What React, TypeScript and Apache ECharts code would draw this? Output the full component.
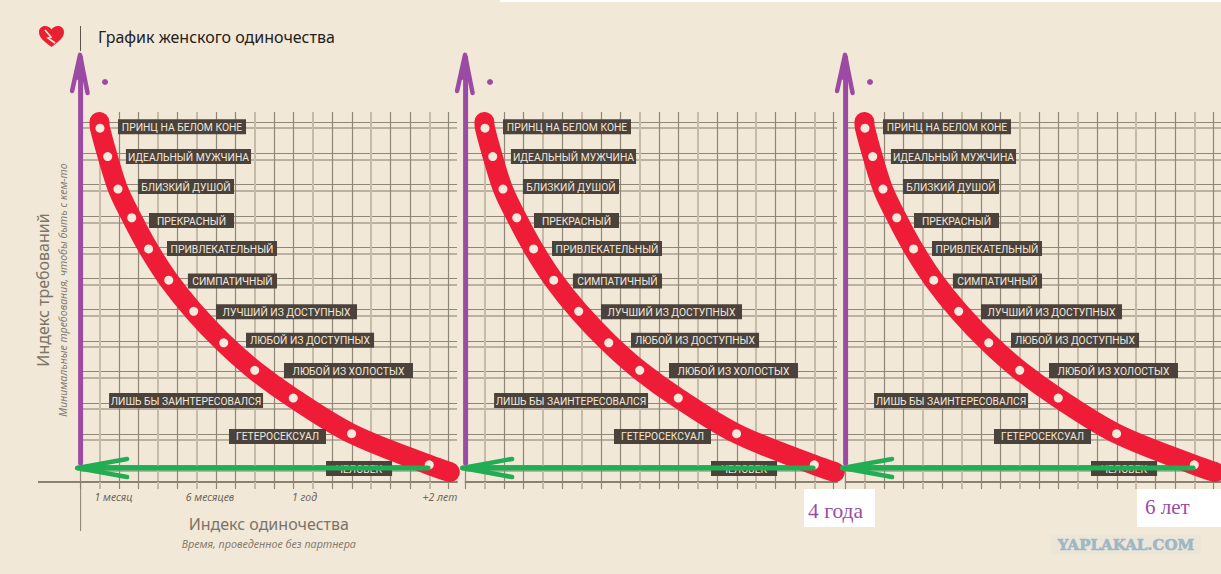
import React, { useEffect, useRef } from "react";
import * as echarts from "echarts";

// Requirement levels, from the top of the curve to the bottom
const levelNames = [
  "ПРИНЦ НА БЕЛОМ КОНЕ", "ИДЕАЛЬНЫЙ МУЖЧИНА", "БЛИЗКИЙ ДУШОЙ", "ПРЕКРАСНЫЙ",
  "ПРИВЛЕКАТЕЛЬНЫЙ", "СИМПАТИЧНЫЙ", "ЛУЧШИЙ ИЗ ДОСТУПНЫХ", "ЛЮБОЙ ИЗ ДОСТУПНЫХ",
  "ЛЮБОЙ ИЗ ХОЛОСТЫХ", "ЛИШЬ БЫ ЗАИНТЕРЕСОВАЛСЯ", "ГЕТЕРОСЕКСУАЛ", "ЧЕЛОВЕК",
];
// Curve stops: loneliness index (x) and requirement index (y)
const stopX = [1.0, 1.4, 1.93, 2.64, 3.51, 4.55, 5.84, 7.39, 8.99, 10.98, 13.99, 18.0];
const stopY = [11.34, 10.43, 9.39, 8.47, 7.47, 6.47, 5.47, 4.46, 3.58, 2.69, 1.55, 0.55];
const curveStart = [0.97, 11.54];
const curveEnd = [19.06, 0.32];
// Label plates along the same scales
const plateFrom = [1.93, 2.34, 2.96, 3.53, 4.46, 5.54, 6.99, 8.54, 10.5, 1.47, 7.66, 12.67];
const plateTo = [8.54, 8.8, 7.92, 7.92, 10.14, 10.14, 14.27, 15.15, 17.16, 9.42, 12.67, 16.08];
const plateY = [11.39, 10.43, 9.47, 8.38, 7.48, 6.44, 5.46, 4.54, 3.57, 2.61, 1.46, 0.43];
// Axis ticks and rulings
const regularTicks = [0, 2, 3, 5, 7, 8, 10, 11, 13, 14, 16, 17, 19];
const accentTicks = [1, 4, 6, 9, 12, 15, 18];
const upperRules = [11.54, 10.53, 9.54, 8.53, 7.53, 6.54, 5.54, 4.52, 3.54, 2.53, 1.54, 0.54];
const lowerRules = [11.35, 10.32, 9.33, 8.3, 7.31, 6.31, 5.32, 4.33, 3.33, 2.34, 1.35, 0.35];
const tickLabelValues = [1.7, 6.68, 11.56, 18.55];
const tickLabelTexts = ["1 месяц", "6 месяцев", "1 год", "+2 лет"];
// Hand-drawn arrows
const purpleShaft = [[0, 0.61], [0, 13.6]];
const purpleHead = [[-0.44, 12.53], [-0.03, 13.69], [0.36, 12.47]];
const purpleHeadCore = [[-0.3, 12.92], [-0.03, 13.69], [0.23, 12.92]];
const greenShaft = [[17.94, 0.45], [-0.16, 0.45]];
const greenHead = [[2.4, 0.74], [-0.16, 0.45], [2.4, 0.16]];
const greenHeadCore = [[1.2, 0.6], [-0.16, 0.45], [1.2, 0.3]];
const purpleDot = [[1.26, 12.82]];

const UNIT_X = 19.37;
const UNIT_Y = 31.2;
const GRID_TOP = 112;
const GRID_BOTTOM = 482;
const panels = [
  { left: 80.6, right: 457 },
  { left: 465.6, right: 837 },
  { left: 845.6, right: 1221 },
];

const BG = "#f2e8d8";
const RED = "#ee1c36";
const PURPLE = "#9b4ba3";
const GREEN = "#20ad53";
const RULE_DARK = "#8e8677";
const RULE_LIGHT = "#a89f8e";
const ACCENT = "#c5bba8";
const AXIS = "#8a8172";
const PLATE = "#4b423c";
const PLATE_TEXT = "#f3e9db";
const DOT = "#f6eadc";
const SANS = '"Noto Sans", sans-serif';
const PLATE_FONT = '10.3px Roboto, sans-serif';

const HEART =
  "M12.5 21 C5 15.5 0 11.5 0 6 C0 2.4 2.8 0 6 0 C8.8 0 11 1.4 12.5 3.6 C14 1.4 16.2 0 19 0 C22.2 0 25 2.4 25 6 C25 11.5 20 15.5 12.5 21 Z";
echarts.graphic.registerShape("brokenHeart", echarts.graphic.extendPath(HEART as any, {}));

function buildOption() {
  const grid = panels.map((p) => ({
    left: p.left,
    top: GRID_TOP,
    width: p.right - p.left,
    height: GRID_BOTTOM - GRID_TOP,
    containLabel: false,
    show: false,
  }));

  const xAxis: any[] = [];
  const yAxis: any[] = [];
  const series: any[] = [];

  panels.forEach((p, i) => {
    const xMax = (p.right - p.left) / UNIT_X;
    const yMax = (GRID_BOTTOM - GRID_TOP) / UNIT_Y;
    const first = i === 0;

    xAxis.push({
      type: "value", gridIndex: i, min: 0, max: xMax, position: "bottom",
      axisLine: { show: true, onZero: false, lineStyle: { color: AXIS, width: 2 } },
      axisTick: { show: true, length: 7, customValues: regularTicks, lineStyle: { color: RULE_DARK, width: 1.2 } },
      splitLine: { show: true, lineStyle: { color: RULE_DARK, width: 1.2 } },
      axisLabel: first
        ? {
            show: true, customValues: tickLabelValues, margin: 9,
            formatter: (v: number) => tickLabelTexts[tickLabelValues.indexOf(v)] ?? "",
            fontFamily: SANS, fontStyle: "italic", fontSize: 10.5, color: "#6e675c",
          }
        : { show: false, customValues: tickLabelValues },
      ...(first
        ? {
            name: "{a|Индекс одиночества}\n{b|Время, проведенное без партнера}",
            nameLocation: "middle", nameGap: 32,
            nameTextStyle: {
              rich: {
                a: { fontFamily: SANS, fontSize: 16, color: "#7b7468", lineHeight: 20, align: "center" },
                b: { fontFamily: SANS, fontSize: 10.8, fontStyle: "italic", color: "#857d70", lineHeight: 18, align: "center" },
              },
            },
          }
        : {}),
    });
    xAxis.push({
      type: "value", gridIndex: i, min: 0, max: xMax, position: "bottom",
      axisLine: { show: false, onZero: false },
      axisLabel: { show: false },
      axisTick: { show: true, length: 7, customValues: accentTicks, lineStyle: { color: ACCENT, width: 2 } },
      splitLine: { show: true, lineStyle: { color: ACCENT, width: 2 } },
    });
    yAxis.push({
      type: "value", gridIndex: i, min: 0, max: yMax, position: "left",
      axisLine: { show: false, onZero: false },
      axisLabel: { show: false },
      axisTick: { show: false, customValues: upperRules },
      splitLine: { show: true, lineStyle: { color: RULE_DARK, width: 1.2 } },
      ...(first
        ? {
            name: "{a|Индекс требований}\n{b|Минимальные требования, чтобы быть с кем-то}",
            nameLocation: "middle", nameRotate: 90, nameGap: 8,
            nameTextStyle: {
              padding: [0, 0, 0, 14],
              rich: {
                a: { fontFamily: SANS, fontSize: 16, color: "#7b7468", lineHeight: 20, align: "center" },
                b: { fontFamily: SANS, fontSize: 10.6, fontStyle: "italic", color: "#857d70", lineHeight: 20, align: "center" },
              },
            },
          }
        : {}),
    });
    yAxis.push({
      type: "value", gridIndex: i, min: 0, max: yMax, position: "left",
      axisLine: { show: false, onZero: false },
      axisLabel: { show: false },
      axisTick: { show: false, customValues: lowerRules },
      splitLine: { show: true, lineStyle: { color: RULE_LIGHT, width: 1.5 } },
    });

    const axes = { xAxisIndex: i * 2, yAxisIndex: i * 2 };
    const stops = stopX.map((x, k) => [x, stopY[k]]);

    series.push({
      type: "line", ...axes, z: 2, silent: true, smooth: 0.35, showSymbol: false, clip: true,
      data: [curveStart, ...stops, curveEnd],
      lineStyle: { color: RED, width: 20, cap: "round", join: "round" },
    });
    series.push({
      type: "scatter", ...axes, z: 3, silent: true, clip: false, symbolSize: 9,
      data: stops, itemStyle: { color: DOT, opacity: 1 },
    });
    series.push({
      type: "custom", ...axes, z: 4, silent: true, clip: false,
      encode: { x: [0, 1], y: 2 },
      data: plateFrom.map((x, k) => [x, plateTo[k], plateY[k]]),
      renderItem: (params: any, api: any) => {
        const a = api.coord([api.value(0), api.value(2)]);
        const b = api.coord([api.value(1), api.value(2)]);
        return {
          type: "group",
          children: [
            { type: "rect", shape: { x: a[0], y: a[1] - 7.5, width: b[0] - a[0], height: 15 }, style: { fill: PLATE } },
            {
              type: "text",
              style: {
                text: levelNames[params.dataIndex], x: (a[0] + b[0]) / 2, y: a[1] + 0.5,
                align: "center", verticalAlign: "middle",
                fill: PLATE_TEXT, font: PLATE_FONT,
              },
            },
          ],
        };
      },
    });
    // Each hand-drawn stroke goes through the axes' scales as a polyline
    const stroke = (points: number[][], color: string, width: number, z: number, fill = "none") => ({
      type: "custom", ...axes, z, silent: true, clip: false,
      encode: { x: 0, y: 1 },
      data: points,
      renderItem: (params: any, api: any) =>
        params.dataIndex === 0
          ? {
              type: fill === "none" ? "polyline" : "polygon",
              shape: { points: points.map((pt) => api.coord(pt)) },
              style: { stroke: color, lineWidth: width, fill, lineCap: "round", lineJoin: "round" },
            }
          : null,
    });
    series.push(stroke(purpleShaft, PURPLE, 5, 5));
    series.push(stroke(purpleHead, PURPLE, 4.5, 5));
    series.push(stroke(purpleHeadCore, PURPLE, 1, 5, PURPLE));
    series.push({
      type: "scatter", ...axes, z: 5, silent: true, clip: false, symbolSize: 6,
      data: purpleDot, itemStyle: { color: PURPLE, opacity: 1 },
    });
    series.push(stroke(greenShaft, GREEN, 5, 6));
    series.push(stroke(greenHead, GREEN, 4.5, 6));
    series.push(stroke(greenHeadCore, GREEN, 1, 6, GREEN));
  });

  const graphic = {
    elements: [
      { type: "rect", z: 10, shape: { x: 500, y: 0, width: 721, height: 2 }, style: { fill: "#ffffff" } },
      { type: "brokenHeart", z: 10, x: 39, y: 26, scaleX: 1, scaleY: 1, style: { fill: "#e8202f" } },
      {
        type: "polyline", z: 11,
        shape: { points: [[45, 30], [51, 37], [48, 38], [55, 43]] },
        style: { stroke: BG, lineWidth: 1.6, fill: "none" },
      },
      { type: "line", z: 10, shape: { x1: 80.5, y1: 26, x2: 80.5, y2: 51 }, style: { stroke: "#5c564c", lineWidth: 1 } },
      { type: "line", z: 1, shape: { x1: 38, y1: 482, x2: 81, y2: 482 }, style: { stroke: AXIS, lineWidth: 2 } },
      { type: "line", z: 1, shape: { x1: 80.6, y1: 482, x2: 80.6, y2: 531 }, style: { stroke: AXIS, lineWidth: 1 } },
      { type: "rect", z: 10, shape: { x: 804, y: 489, width: 71, height: 38 }, style: { fill: "#ffffff" } },
      {
        type: "text", z: 11, x: 808, y: 511,
        style: { text: "4 года", fill: PURPLE, font: '21.5px "Liberation Serif", serif', verticalAlign: "middle" },
      },
      { type: "rect", z: 10, shape: { x: 1137, y: 489, width: 84, height: 38 }, style: { fill: "#ffffff" } },
      {
        type: "text", z: 11, x: 1145, y: 507,
        style: { text: "6 лет", fill: PURPLE, font: '21px "Liberation Serif", serif', verticalAlign: "middle" },
      },
      { type: "rect", z: 10, shape: { x: 1051, y: 535, width: 150, height: 19 }, style: { fill: "#ebe6da" } },
      {
        type: "text", z: 11, x: 1126, y: 544.5,
        style: {
          text: "YAPLAKAL.COM", fill: "#9fb6c3", stroke: "#9fb6c3", lineWidth: 0.6,
          font: 'bold 15px "DejaVu Serif", serif', align: "center", verticalAlign: "middle",
        },
      },
    ],
  };

  return {
    animation: false,
    backgroundColor: BG,
    title: {
      text: "График женского одиночества", left: 98, top: 29, padding: 0,
      textStyle: { fontFamily: SANS, fontSize: 16, fontWeight: "normal", color: "#24211d" },
    },
    tooltip: { show: false },
    grid, xAxis, yAxis, series, graphic,
  };
}

export default function App() {
  const ref = useRef<HTMLDivElement>(null);
  useEffect(() => {
    document.body.style.margin = "0";
    const chart = echarts.init(ref.current!, undefined, { renderer: "svg" });
    chart.setOption(buildOption() as any);
    return () => chart.dispose();
  }, []);
  return <div ref={ref} style={{ position: "fixed", left: 0, top: 0, width: 1221, height: 574 }} />;
}
